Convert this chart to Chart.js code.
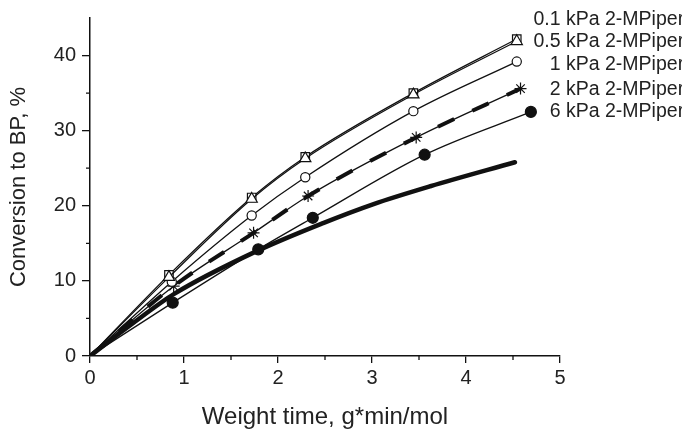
<!DOCTYPE html>
<html>
<head>
<meta charset="utf-8">
<script src="https://cdn.jsdelivr.net/npm/chart.js@4"></script>
<style>
  html, body { margin: 0; padding: 0; background: #fff; }
  #wrap { width: 682px; height: 432px; }
</style>
</head>
<body>
<div id="wrap"><canvas id="chart" width="682" height="432"></canvas></div>
<script>
// values
const seriesLabels = ['0.1 kPa 2-MPiperidine', '0.5 kPa 2-MPiperidine', '1 kPa 2-MPiperidine', '2 kPa 2-MPiperidine', '6 kPa 2-MPiperidine'];
const x01 = [0, 0.84, 1.72, 2.29, 3.44, 4.54];
const y01 = [0, 10.8, 21.1, 26.5, 35.0, 42.2];
const x05 = [0, 0.84, 1.72, 2.29, 3.44, 4.54];
const y05 = [0, 10.5, 20.9, 26.3, 34.8, 41.9];
const x1 = [0, 0.87, 1.72, 2.29, 3.44, 4.54];
const y1 = [0, 9.9, 18.7, 23.8, 32.6, 39.2];
const x2 = [0, 0.89, 1.74, 2.32, 3.47, 4.58];
const y2 = [0, 9.3, 16.4, 21.3, 29.1, 35.6];
const x6 = [0, 0.88, 1.79, 2.37, 3.56, 4.69];
const y6 = [0, 7.1, 14.2, 18.4, 26.8, 32.5];
// thick curve without markers
const xCurve = [0, 0.45, 0.9, 1.78, 2.48, 3.01, 3.62, 4.52];
const yCurve = [0, 4.3, 8.3, 14.0, 17.7, 20.2, 22.6, 25.8];

const xTicks = [0, 1, 2, 3, 4, 5];
const xMinor = [0.5, 1.5, 2.5, 3.5, 4.5];
const yTicks = [0, 10, 20, 30, 40];
const yMinor = [5, 15, 25, 35];

const ink = '#111';
const textInk = '#222';

function pts(xs, ys) {
    return xs.map((x, i) => ({ x: x, y: ys[i] }));
}

// no marker on the origin point
function markerSize(r) {
    return ctx => ctx.dataIndex === 0 ? 0 : r;
}

function series(label, xs, ys, style, r, fill) {
    return {
        label: label,
        data: pts(xs, ys),
        borderColor: ink,
        borderWidth: 1.3,
        pointStyle: style,
        pointRadius: markerSize(r),
        pointBorderColor: ink,
        pointBorderWidth: 1.2,
        pointBackgroundColor: fill,
        cubicInterpolationMode: 'monotone',
        showLine: true
    };
}

// minor ticks + end-of-curve labels
const extras = {
    id: 'extras',
    afterDraw(chart) {
        const c = chart.ctx;
        const xs = chart.scales.x, ys = chart.scales.y;
        c.save();
        c.strokeStyle = ink;
        c.lineWidth = 1.3;
        c.beginPath();
        xMinor.forEach(v => {
            const px = xs.getPixelForValue(v);
            c.moveTo(px, ys.bottom);
            c.lineTo(px, ys.bottom + 4);
        });
        yMinor.forEach(v => {
            const py = ys.getPixelForValue(v);
            c.moveTo(xs.left, py);
            c.lineTo(xs.left - 4, py);
        });
        c.stroke();

        c.fillStyle = textInk;
        c.font = '19.5px "Liberation Sans", Arial, sans-serif';
        c.textBaseline = 'middle';
        const anchorX = chart.chartArea.right + 6;
        const nudge = [-19, 0, 3, 1, 0];
        for (let i = 0; i < 5; i++) {
            const ds = chart.data.datasets[i].data;
            const last = ds[ds.length - 1];
            const py = ys.getPixelForValue(last.y) + nudge[i];
            const label = seriesLabels[i];
            const num = label.split(' ')[0] + ' ';
            c.fillText(label, anchorX - c.measureText(num).width, py);
        }
        c.restore();
    }
};

const triSeries = series(seriesLabels[1], x05, y05, 'triangle', 6.5, '#fff');
triSeries.order = -1;

const canvas = document.getElementById('chart');
new Chart(canvas.getContext('2d'), {
    type: 'scatter',
    data: {
        datasets: [
            series(seriesLabels[0], x01, y01, 'rect', 6, '#fff'),
            triSeries,
            series(seriesLabels[2], x1, y1, 'circle', 4.6, '#fff'),
            series(seriesLabels[3], x2, y2, 'star', 6, '#fff'),
            series(seriesLabels[4], x6, y6, 'circle', 5.5, ink),
            {
                label: '2 kPa dashed',
                data: pts(x2, y2),
                borderColor: ink,
                borderWidth: 4,
                borderDash: [18, 20],
                pointRadius: 0,
                cubicInterpolationMode: 'monotone',
                showLine: true
            },
            {
                label: 'curve',
                data: pts(xCurve, yCurve),
                borderColor: ink,
                borderWidth: 4.5,
                borderCapStyle: 'round',
                pointRadius: 0,
                cubicInterpolationMode: 'monotone',
                showLine: true
            }
        ]
    },
    options: {
        responsive: false,
        animation: false,
        layout: { padding: { left: 0, right: 122, top: 10, bottom: 0 } },
        plugins: {
            legend: { display: false },
            tooltip: { enabled: false }
        },
        scales: {
            x: {
                type: 'linear',
                min: 0,
                max: 5,
                afterBuildTicks: s => { s.ticks = xTicks.map(v => ({ value: v })); },
                afterFit: s => { s.height = 76; },
                border: { color: ink, width: 1.5 },
                grid: { drawOnChartArea: false, tickLength: 7, color: ink, lineWidth: 1.3 },
                ticks: {
                    color: textInk,
                    padding: 3,
                    maxRotation: 0,
                    font: { family: '"Liberation Sans", Arial, sans-serif', size: 20 }
                },
                title: {
                    display: true,
                    text: 'Weight time, g*min/mol',
                    color: textInk,
                    padding: { top: 0, bottom: 0 },
                    font: { family: '"Liberation Sans", Arial, sans-serif', size: 24 }
                }
            },
            y: {
                type: 'linear',
                min: 0,
                max: 45,
                afterBuildTicks: s => { s.ticks = yTicks.map(v => ({ value: v })); },
                afterFit: s => { s.width = 90; },
                border: { color: ink, width: 1.5 },
                grid: { drawOnChartArea: false, tickLength: 8, color: ink, lineWidth: 1.3 },
                ticks: {
                    color: textInk,
                    padding: 6,
                    font: { family: '"Liberation Sans", Arial, sans-serif', size: 20 }
                },
                title: {
                    display: true,
                    text: 'Conversion to BP, %',
                    color: textInk,
                    padding: { top: 6, bottom: 0 },
                    font: { family: '"Liberation Sans", Arial, sans-serif', size: 22 }
                }
            }
        }
    },
    plugins: [extras]
});
</script>
</body>
</html>
